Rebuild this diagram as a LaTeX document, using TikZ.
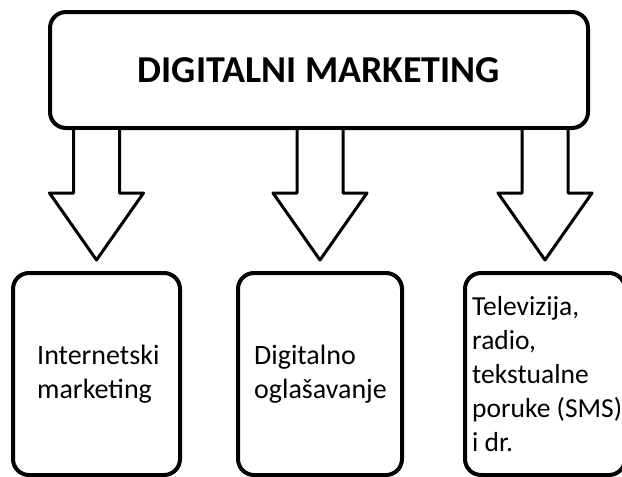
\documentclass[tikz,border=0pt]{standalone}
\usepackage{fontspec}
\setmainfont{Carlito}
\usetikzlibrary{calc}
\begin{document}
\begin{tikzpicture}[x=1pt,y=-1pt,
  boxstyle/.style={draw, line width=4pt, rounded corners=16pt, inner sep=0pt},
  arrowstyle/.style={draw, line width=3pt, fill=white, line join=round},
  bodytext/.style={font=\fontsize{28}{34}\selectfont, align=left, anchor=west, inner sep=0pt}]
\useasboundingbox (0,0) rectangle (622,477);
\clip (0,0) rectangle (622,477);
\node[boxstyle, minimum width=538pt, minimum height=116pt] (top) at (319,70) {};
\node[font=\fontsize{38}{46}\selectfont\bfseries] (title) at (top.center) {DIGITALNI MARKETING};
\node[boxstyle, minimum width=167pt, minimum height=202pt] (box1) at (96.5,374) {};
\node[boxstyle, minimum width=164pt, minimum height=202pt] (box2) at (320,374) {};
\node[boxstyle, minimum width=160pt, minimum height=202pt] (box3) at (545,374) {};
\node[bodytext] (t1) at (37,374) {Internetski\\marketing};
\node[bodytext] (t2) at (254,374) {Digitalno\\ogla\v{s}avanje};
\node[bodytext, font=\fontsize{27.5}{34}\selectfont] (t3) at (472,374) {Televizija,\\radio,\\tekstualne\\poruke (SMS)\\i dr.};
\foreach \b in {box1,box2,box3}{
  \coordinate (s) at (top.south -| \b.north);
  \coordinate (e) at ($(\b.north)+(0,-11)$);
  \draw[arrowstyle] ($(s)+(-23,0)$) -- ($(e)+(-23,-67)$) -- ($(e)+(-47,-67)$)
    -- (e) -- ($(e)+(47,-67)$) -- ($(e)+(23,-67)$) -- ($(s)+(23,0)$);
}
\end{tikzpicture}
\end{document}
